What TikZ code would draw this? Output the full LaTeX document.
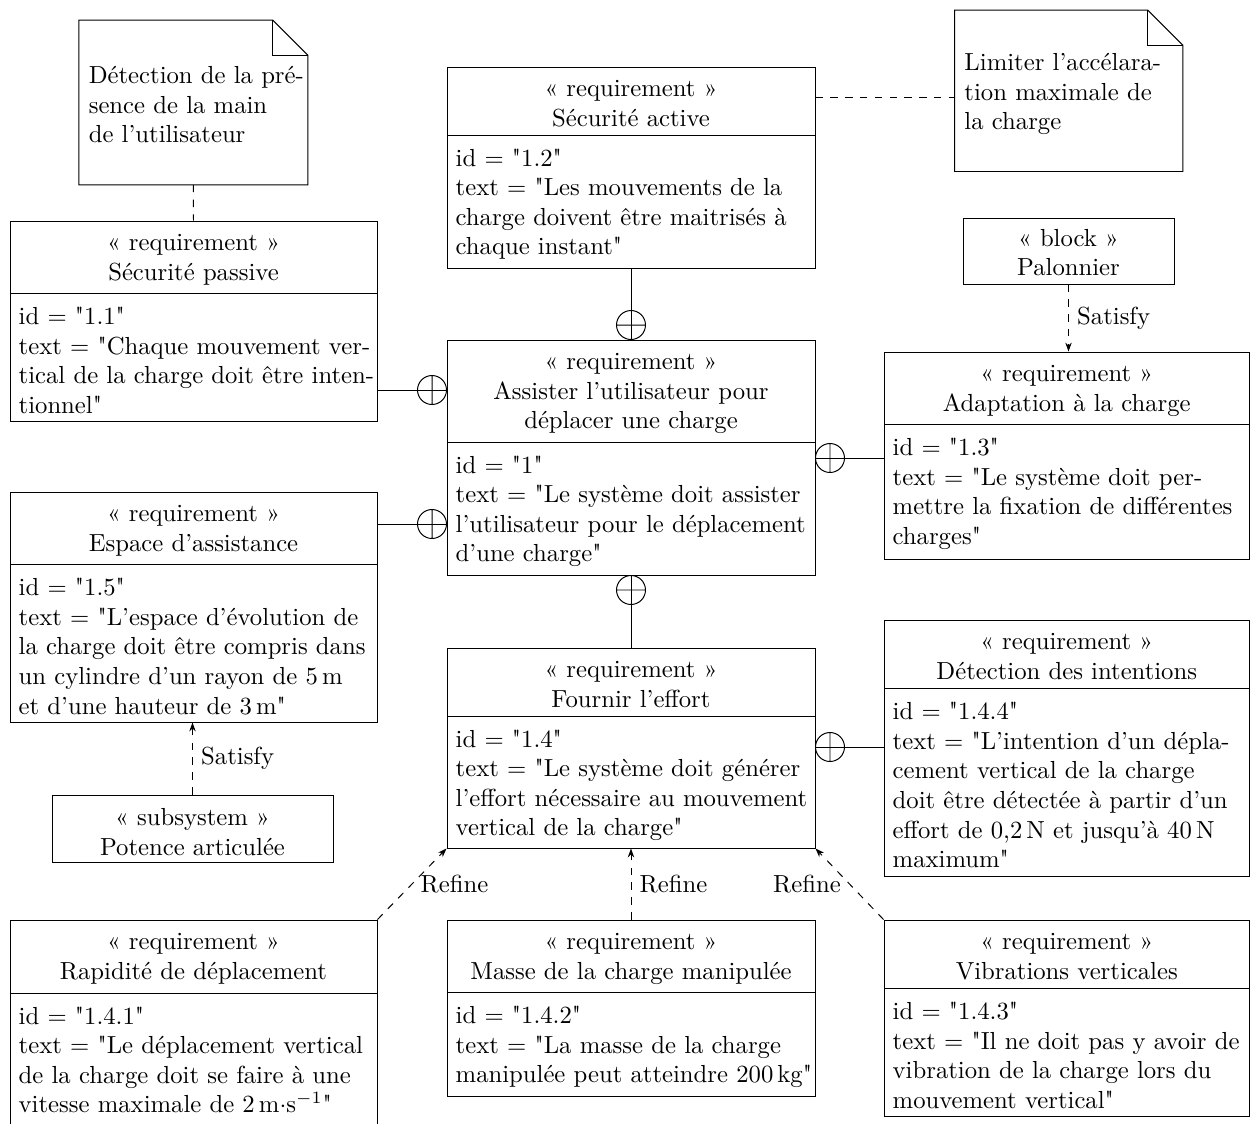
\documentclass[tikz,border=0pt]{standalone}
\usepackage{fontspec}
\setmainfont{Latin Modern Roman}[Ligatures=TeXOff]
\usetikzlibrary{fit,calc,arrows.meta}
\tikzset{
  boxnode/.style={draw, inner sep=0pt, line width=0.4pt},
  ghost/.style={inner sep=0pt},
  hdrtext/.style={anchor=north, inner sep=0pt, align=center, font=\normalsize},
  bodytext/.style={anchor=north west, inner sep=0pt, align=left, font=\normalsize},
  dep/.style={dashed, line width=0.4pt, -{Stealth[length=3.6pt,width=2.6pt]}},
  lbl/.style={font=\normalsize, inner sep=3.33pt},
  conn/.style={line width=0.4pt},
}
% name, x1, x2, top, sep, bottom, header, body
\newcommand\reqbox[8]{%
  \coordinate (#1-nw) at (#2,#4);
  \coordinate (#1-se) at (#3,#6);
  \node[boxnode, fit=(#1-nw)(#1-se)] (#1) {};
  \draw (#2,#5) -- (#3,#5);
  \node[hdrtext] (#1-hd) at ({(#2+#3)/2},{#4+8.3}) {\strut #7};
  \node[bodytext] (#1-bd) at ({#2+8.2},{#5+9.8}) {\strut #8};
}
% name, x1, x2, top, bottom, first baseline, text
\newcommand\blkbox[7]{%
  \coordinate (#1-nw) at (#2,#4);
  \coordinate (#1-se) at (#3,#5);
  \node[boxnode, fit=(#1-nw)(#1-se)] (#1) {};
  \node[hdrtext] (#1-hd) at ({(#2+#3)/2},{#6-20.74}) {\strut #7};
}
% name, x1, x2, top, bottom, first baseline, text
\newcommand\notebox[7]{%
  \coordinate (#1-nw) at (#2,#4);
  \coordinate (#1-se) at (#3,#5);
  \node[ghost, fit=(#1-nw)(#1-se)] (#1) {};
  \draw (#1.north west) -- ($(#1.north east)+(-35,0)$) -- ($(#1.north east)+(0,35)$)
        -- (#1.south east) -- (#1.south west) -- cycle;
  \draw ($(#1.north east)+(-35,0)$) -- ($(#1.north east)+(-35,35)$) -- ($(#1.north east)+(0,35)$);
  \node[bodytext] (#1-tx) at ({#2+9},{#6-20.74}) {\strut #7};
}
% containment symbols
\newcommand\contV[1]{\draw[conn] (#1) circle[radius=5.87pt] ($(#1)+(-14.5,0)$) -- ($(#1)+(14.5,0)$);}
\newcommand\contH[1]{\draw[conn] (#1) circle[radius=5.87pt] ($(#1)+(0,-14.5)$) -- ($(#1)+(0,14.5)$);}

\begin{document}
\begin{tikzpicture}[x=0.405pt,y=-0.405pt]
\useasboundingbox (0,0) rectangle (1250,1124);

% notes
\notebox{n1}{79.3}{307.3}{20.7}{184.3}{83}{Détection de la pré-\\sence de la main\\de l’utilisateur}
\notebox{n2}{955}{1182.3}{10.7}{171}{70}{Limiter l’accélara-\\tion maximale de\\la charge}

% requirement boxes
\reqbox{sp}{10}{377}{221}{293.5}{421.5}{« requirement »\\Sécurité passive}
  {id = "1.1"\\text = "Chaque mouvement ver-\\tical de la charge doit être inten-\\tionnel"}
\reqbox{sa}{447}{815}{67}{135}{268}{« requirement »\\Sécurité active}
  {id = "1.2"\\text = "Les mouvements de la\\charge doivent être maitrisés à\\chaque instant"}
\reqbox{main}{447}{815}{340}{442}{575}{« requirement »\\Assister l’utilisateur pour\\déplacer une charge}
  {id = "1"\\text = "Le système doit assister\\l’utilisateur pour le déplacement\\d’une charge"}
\reqbox{ad}{884}{1249.5}{352}{424.5}{559}{« requirement »\\Adaptation à la charge}
  {id = "1.3"\\text = "Le système doit per-\\mettre la fixation de différentes\\charges"}
\reqbox{es}{10}{377}{492}{564.5}{722}{« requirement »\\Espace d’assistance}
  {id = "1.5"\\text = "L’espace d’évolution de\\la charge doit être compris dans\\un cylindre d’un rayon de 5\,m\\et d’une hauteur de 3\,m"}
\reqbox{fo}{447}{815}{648}{716}{848}{« requirement »\\Fournir l’effort}
  {id = "1.4"\\text = "Le système doit générer\\l’effort nécessaire au mouvement\\vertical de la charge"}
\reqbox{di}{884}{1249.5}{620}{688.5}{876}{« requirement »\\Détection des intentions}
  {id = "1.4.4"\\text = "L’intention d’un dépla-\\cement vertical de la charge\\doit être détectée à partir d’un\\effort de 0,2\,N et jusqu’à 40\,N\\maximum"}
\reqbox{ra}{10}{377}{920}{993}{1132}{« requirement »\\Rapidité de déplacement}
  {id = "1.4.1"\\text = "Le déplacement vertical\\de la charge doit se faire à une\\vitesse maximale de 2\,m$\cdot$s$^{-1}$"}
\reqbox{ma}{447}{815}{920}{992.5}{1096.5}{« requirement »\\Masse de la charge manipulée}
  {id = "1.4.2"\\text = "La masse de la charge\\manipulée peut atteindre 200\,kg"}
\reqbox{vi}{884}{1249.5}{920}{988.5}{1116}{« requirement »\\Vibrations verticales}
  {id = "1.4.3"\\text = "Il ne doit pas y avoir de\\vibration de la charge lors du\\mouvement vertical"}

% blocks
\blkbox{pa}{963}{1174}{218}{284}{245.5}{« block »\\Palonnier}
\blkbox{po}{52}{333}{795}{862}{825}{« subsystem »\\Potence articulée}

% note connectors
\coordinate (y97) at (0,97);
\draw[dashed] (n1.south) -- (sp.north);
\draw[dashed] (sa.east |- y97) -- (n2.west |- y97);

% containment
\coordinate (y390) at (0,390);
\coordinate (y524) at (0,524);
\coordinate (y458) at (0,458);
\coordinate (y747) at (0,747);
\draw[conn] (sa.south) -- (main.north);
\contV{$(main.north)+(0,-14.5)$}
\draw[conn] (sp.east |- y390) -- (main.west |- y390);
\contH{$(main.west |- y390)+(-14.5,0)$}
\draw[conn] (es.east |- y524) -- (main.west |- y524);
\contH{$(main.west |- y524)+(-14.5,0)$}
\draw[conn] (ad.west |- y458) -- (main.east |- y458);
\contH{$(main.east |- y458)+(14.5,0)$}
\draw[conn] (fo.north) -- (main.south);
\contV{$(main.south)+(0,14.5)$}
\draw[conn] (di.west |- y747) -- (fo.east |- y747);
\contH{$(fo.east |- y747)+(14.5,0)$}

% satisfy
\draw[dep] (pa.south) -- node[lbl, right] (s1) {Satisfy} (pa.south |- ad.north);
\draw[dep] (po.north) -- node[lbl, right] (s2) {Satisfy} (po.north |- es.south);

% refine
\draw[dep] (ra.north east) -- node[lbl, right] (r1) {Refine} (fo.south west);
\draw[dep] (ma.north) -- node[lbl, right] (r2) {Refine} (fo.south);
\draw[dep] (vi.north west) -- node[lbl, left] (r3) {Refine} (fo.south east);
\end{tikzpicture}
\end{document}
